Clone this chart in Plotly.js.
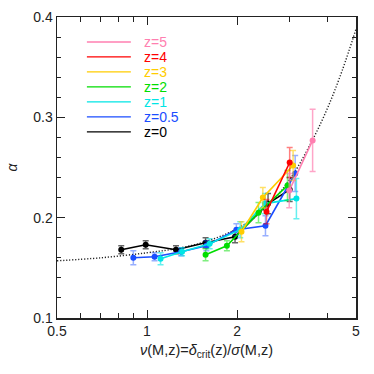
<!DOCTYPE html>
<html>
<head>
<meta charset="utf-8">
<script src="https://cdn.plot.ly/plotly-3.0.1.min.js"></script>
<style>
  body { margin: 0; background: #fff; }
  #plotDiv { width: 374px; height: 374px; }
</style>
</head>
<body>
<div id="plotDiv"></div>
<script>
// valores
var names  = ['z=0', 'z=0.5', 'z=1', 'z=2', 'z=3', 'z=4', 'z=5'];
var colors = ['#000000', '#1a4dff', '#00e5e5', '#00dd00', '#ffcc00', '#ff0000', '#ff7fb0'];
var errColors = ['rgba(0,0,0,0.6)', 'rgba(26,77,255,0.45)', 'rgba(0,229,229,0.6)', 'rgba(0,221,0,0.5)',
                 'rgba(255,204,0,0.6)', 'rgba(255,0,0,0.5)', 'rgba(255,127,176,0.7)'];

var nu = [
  [0.82, 0.99, 1.25, 1.57, 1.97, 2.54, 3.0],
  [0.90, 1.06, 1.30, 1.58, 1.99, 2.49, 3.13],
  [1.11, 1.31, 1.62, 2.05, 2.48, 3.16],
  [1.57, 1.85, 2.36, 2.95],
  [2.07, 2.44, 3.08],
  [2.51, 3.0],
  [2.99, 3.58]
];
var alpha = [
  [0.168, 0.173, 0.168, 0.175, 0.181, 0.214, 0.228],
  [0.160, 0.161, 0.166, 0.172, 0.188, 0.192, 0.244],
  [0.159, 0.166, 0.174, 0.188, 0.214, 0.219],
  [0.163, 0.172, 0.205, 0.232],
  [0.186, 0.220, 0.252],
  [0.206, 0.255],
  [0.227, 0.277]
];
var err = [
  [0.004, 0.004, 0.004, 0.005, 0.006, 0.010, 0.012],
  [0.007, 0.004, 0.004, 0.005, 0.006, 0.010, 0.018],
  [0.006, 0.004, 0.005, 0.008, 0.010, 0.020],
  [0.006, 0.005, 0.010, 0.015],
  [0.010, 0.010, 0.015],
  [0.012, 0.015],
  [0.017, 0.031]
];

// curva de ajuste (punteada)
var fitNu    = [0.5, 0.7, 1.0, 1.3, 1.6, 2.0, 2.5, 3.0, 3.5, 4.0, 4.5, 5.0];
var fitAlpha = [0.157, 0.160, 0.165, 0.170, 0.177, 0.189, 0.210, 0.238, 0.272, 0.308, 0.347, 0.388];

var xTicks = [0.5, 1, 2, 5];
var xMinor = [0.6, 0.7, 0.8, 0.9, 3, 4];

var data = [];
data.push({
  x: fitNu, y: fitAlpha, mode: 'lines', type: 'scatter', showlegend: false,
  line: { color: '#222', width: 1.4, dash: '1.2px,1.8px', shape: 'spline' }, hoverinfo: 'skip'
});
for (let i = 0; i < names.length; i++) {
  data.push({
    x: nu[i], y: alpha[i], mode: 'lines+markers', type: 'scatter', name: names[i], showlegend: false,
    line: { color: colors[i], width: 1.6 },
    marker: { color: colors[i], size: 6 },
    error_y: { type: 'data', array: err[i], visible: true, color: errColors[i], thickness: 1.5, width: 3 }
  });
}

// leyenda dibujada a mano (texto de color por serie)
var shapes = [], annotations = [];
for (let k = 0; k < names.length; k++) {
  var i = names.length - 1 - k;
  var yy = 0.917 - k * 0.0498;
  shapes.push({ type: 'line', xref: 'paper', yref: 'paper', x0: 0.10, x1: 0.247, y0: yy, y1: yy,
                line: { color: colors[i], width: 1.3 } });
  annotations.push({ xref: 'paper', yref: 'paper', x: 0.285, y: yy, xanchor: 'left', yanchor: 'middle',
                     text: names[i], showarrow: false, font: { color: colors[i], size: 14 } });
}

var layout = {
  width: 374, height: 374,
  margin: { l: 57, r: 18, t: 17, b: 56 },
  paper_bgcolor: '#fff', plot_bgcolor: '#fff',
  font: { family: 'Liberation Sans, Arial, sans-serif', size: 14, color: '#222' },
  showlegend: false,
  xaxis: {
    type: 'log', range: [Math.log10(0.5), Math.log10(5)],
    tickmode: 'array', tickvals: xTicks, ticktext: xTicks.map(String),
    ticks: 'inside', ticklen: 8, tickwidth: 1, tickcolor: '#222',
    minor: { tickmode: 'array', tickvals: xMinor, ticks: 'inside', ticklen: 5, tickwidth: 1, tickcolor: '#222' },
    showline: true, linecolor: '#222', linewidth: 1.5, mirror: 'allticks',
    showgrid: false, zeroline: false,
    title: { text: '<i>ν</i>(M,z)=<i>δ</i><sub>crit</sub>(z)/<i>σ</i>(M,z)', standoff: 6, font: { size: 14.5 } }
  },
  yaxis: {
    range: [0.1, 0.4], tickmode: 'array', tickvals: [0.1, 0.2, 0.3, 0.4], ticktext: ['0.1', '0.2', '0.3', '0.4'],
    ticks: 'inside', ticklen: 8, tickwidth: 1, tickcolor: '#222',
    minor: { dtick: 0.02, ticks: 'inside', ticklen: 4, tickwidth: 1, tickcolor: '#222' },
    showline: true, linecolor: '#222', linewidth: 1.5, mirror: 'allticks',
    showgrid: false, zeroline: false,
    title: { text: '<i>α</i>', standoff: 12, font: { size: 14 } }
  },
  shapes: shapes,
  annotations: annotations
};

Plotly.newPlot('plotDiv', data, layout, { displayModeBar: false, staticPlot: true });
</script>
</body>
</html>
